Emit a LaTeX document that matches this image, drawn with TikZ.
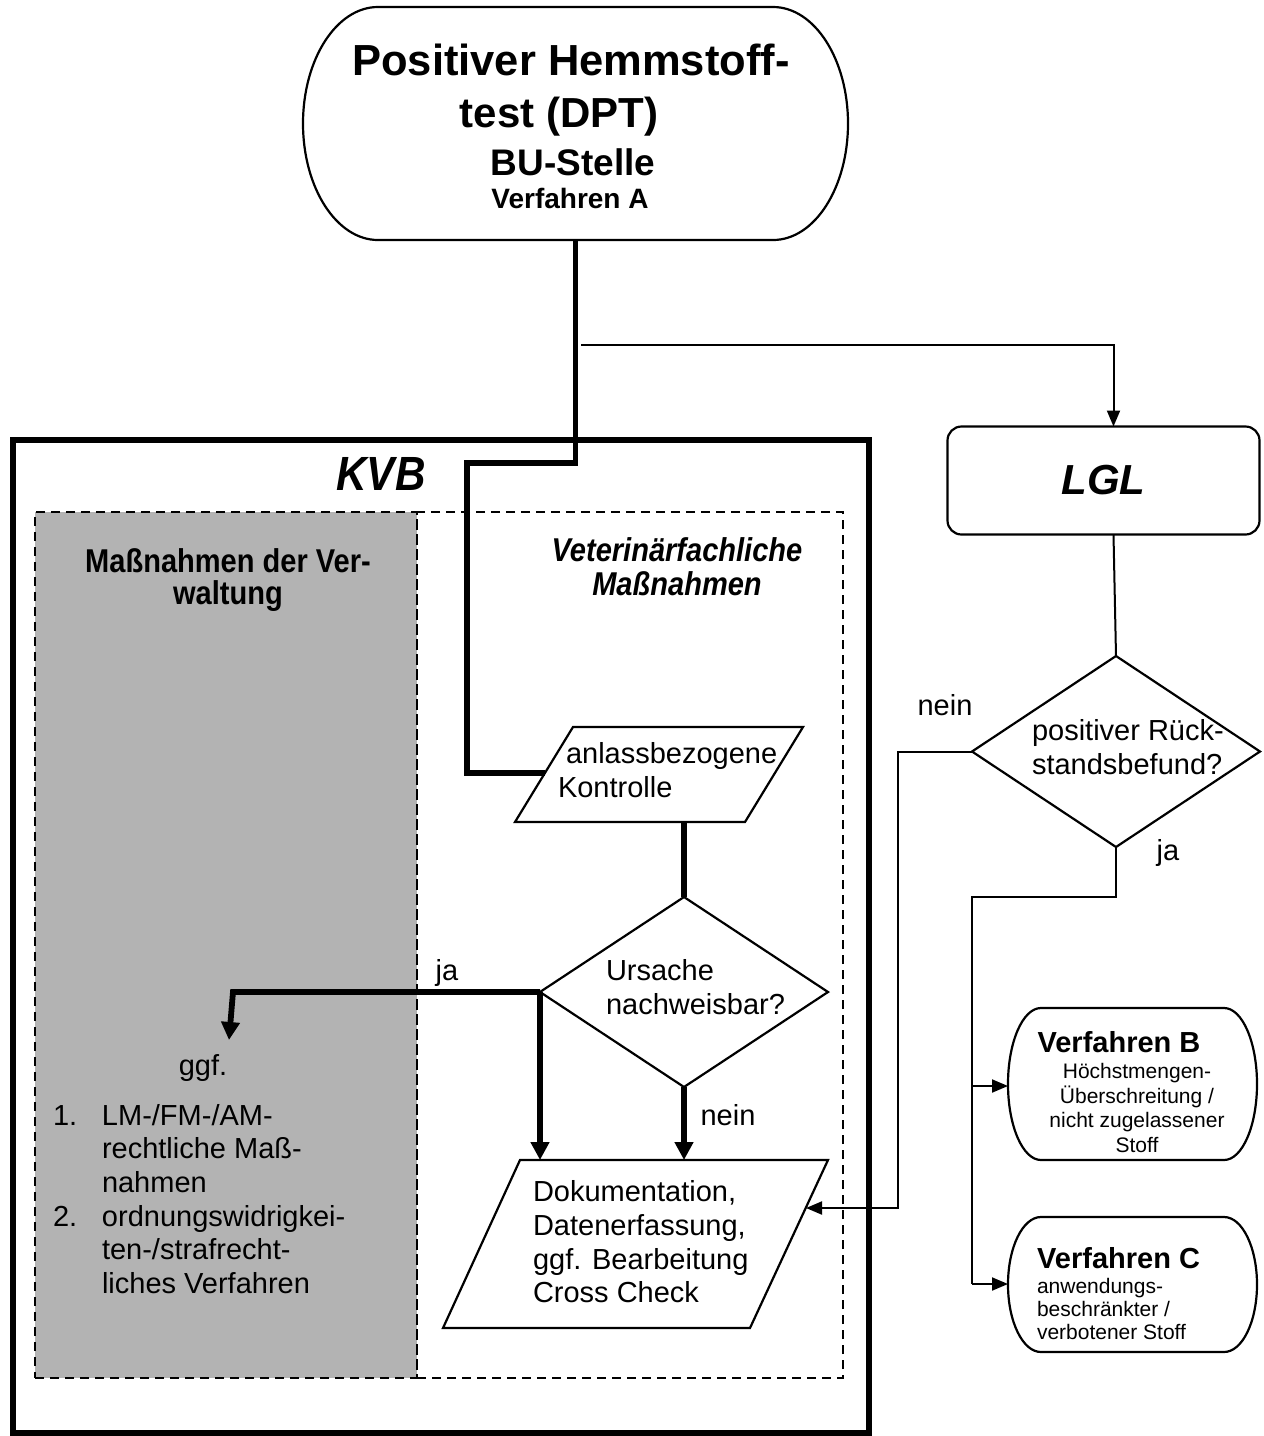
\documentclass[tikz,border=0pt]{standalone}
\usepackage{fontspec}
\setmainfont{Liberation Sans}
\newfontfamily\narrowfont{Liberation Sans}[FakeStretch=0.88]
\usetikzlibrary{arrows.meta,shapes.geometric,calc}
\definecolor{boxgray}{HTML}{B3B3B3}
\begin{document}
\begin{tikzpicture}[x=1pt,y=-1pt,
  outline/.style={line width=2.2pt, line join=miter},
  conn/.style={line width=2pt},
  thinarrow/.style={line width=2pt,-{Triangle[length=16pt,width=13pt]}},
  thickline/.style={line width=5.8pt, line join=miter},
  thickarrow/.style={line width=5.8pt, line join=miter,-{Triangle[length=18pt,width=18pt]}},
  dashbox/.style={line width=2pt, dash pattern=on 9pt off 6pt},
  lbl/.style={font=\fontsize{29}{33.6}\selectfont, inner sep=0pt, outer sep=0pt},
  small/.style={font=\fontsize{21}{24.7}\selectfont, inner sep=0pt, outer sep=0pt},
  blank/.style={draw=none, inner sep=0pt, outer sep=0pt},
  decision/.style={diamond, draw, line width=2.2pt, inner sep=0pt, outer sep=0pt, fill=white}
]
% canvas
\fill[white] (0,0) rectangle (1264,1436);
\useasboundingbox (0,0) rectangle (1264,1436);

% ---------- KVB container ----------
\node[draw, line width=6pt, minimum width=856pt, minimum height=993pt, inner sep=0pt, outer sep=0pt] (kvb) at (441,936.5) {};
\node[fill=boxgray, dashbox, draw, minimum width=382pt, minimum height=866pt, inner sep=0pt, outer sep=0pt] (verw) at (226,945) {};
\node[dashbox, draw, minimum width=426pt, minimum height=866pt, inner sep=0pt, outer sep=0pt] (vet) at (630,945) {};

\node[font=\narrowfont\bfseries\itshape\fontsize{48}{50}\selectfont, inner sep=0pt, anchor=base] (kvbt) at (381,490) {KVB};
\node[font=\narrowfont\bfseries\fontsize{33}{33}\selectfont, align=center, inner sep=0pt] (verwt) at (228,580) {Maßnahmen der Ver-\\[-0.5pt]waltung};
\node[font=\narrowfont\bfseries\itshape\fontsize{33}{33}\selectfont, align=center, inner sep=0pt] (vett) at (677,567) {Veterinärfachliche\\[1pt]Maßnahmen};

% ---------- top node ----------
\node[blank, minimum width=545pt, minimum height=233pt] (top) at (575.5,123.5) {};
\draw[outline, fill=white] (378,7) -- (773,7) arc[start angle=90,end angle=-90,x radius=75pt,y radius=116.5pt]
  -- (378,240) arc[start angle=270,end angle=90,x radius=75pt,y radius=116.5pt] -- cycle;
\node[font=\bfseries\fontsize{43.5}{44}\selectfont, inner sep=0pt, anchor=base] (t1) at (571,75) {Positiver Hemmstoff-};
\node[font=\bfseries\fontsize{42}{42}\selectfont, inner sep=0pt, anchor=base] (t2) at (559,127) {test (DPT)};
\node[font=\bfseries\fontsize{37}{37}\selectfont, inner sep=0pt, anchor=base] (t3) at (573,175) {BU-Stelle};
\node[font=\bfseries\fontsize{28}{28}\selectfont, inner sep=0pt, anchor=base] (t4) at (570,208) {Verfahren A};

% ---------- LGL ----------
\node[draw, outline, rounded corners=14pt, minimum width=312pt, minimum height=108pt, inner sep=0pt, outer sep=0pt,
      font=\bfseries\itshape\fontsize{42}{42}\selectfont] (lgl) at (1103.5,480.5) {LGL};

% ---------- parallelograms ----------
\coordinate (p1w) at (545,773);
\coordinate (p1s) at (684,822);
\draw[outline, fill=white] (573,727) -- (803,727) -- (745,822) -- (515,822) -- cycle;
\node[lbl, align=left, anchor=west] (p1t) at (558,770) {\hspace*{8pt}anlassbezogene\\Kontrolle};

\coordinate (p2tl) at (520,1160);
\coordinate (p2e) at (806,1208);
\draw[outline, fill=white] (520,1160) -- (828,1160) -- (750,1328) -- (443,1328) -- cycle;
\node[lbl, align=left, anchor=west] (p2t) at (533,1242) {Dokumentation,\\Datenerfassung,\\ggf. Bearbeitung\\Cross Check};

% ---------- decisions ----------
\node[decision, minimum width=288pt, minimum height=190pt] (d1) at (684,992) {};
\node[lbl, align=left, anchor=west] (d1t) at (606,987) {Ursache\\nachweisbar?};

\node[decision, minimum width=288pt, minimum height=191pt] (d2) at (1116,751.5) {};
\node[lbl, align=left, anchor=west] (d2t) at (1032,747) {positiver Rück-\\standsbefund?};

% ---------- Verfahren B / C ----------
\node[blank, minimum width=249pt, minimum height=152pt] (vb) at (1132.5,1086) {};
\draw[outline, fill=white] (1041,1008) -- (1224,1008) arc[start angle=90,end angle=-90,x radius=33pt,y radius=76pt]
  -- (1041,1160) arc[start angle=270,end angle=90,x radius=33pt,y radius=76pt] -- cycle;
\node[font=\bfseries\fontsize{29}{29}\selectfont, inner sep=0pt, anchor=base] (vbt) at (1119,1052) {Verfahren B};
\node[small, align=center] (vbs) at (1137,1108) {Höchstmengen-\\Überschreitung /\\nicht zugelassener\\Stoff};

\node[blank, minimum width=249pt, minimum height=135pt] (vc) at (1132.5,1284) {};
\draw[outline, fill=white] (1041,1217) -- (1224,1217) arc[start angle=90,end angle=-90,x radius=33pt,y radius=67.5pt]
  -- (1041,1352) arc[start angle=270,end angle=90,x radius=33pt,y radius=67.5pt] -- cycle;
\node[font=\bfseries\fontsize{29}{29}\selectfont, inner sep=0pt, anchor=base west] (vct) at (1037,1268) {Verfahren C};
\node[small, align=left, anchor=west, font=\fontsize{21}{23}\selectfont] (vcs) at (1037,1309) {anwendungs-\\beschränkter /\\verbotener Stoff};

% ---------- left column text ----------
\node[lbl, anchor=base] (ggf) at (203,1075) {ggf.};
\node[lbl, align=left, anchor=west] (list) at (53,1199) {\makebox[49pt][l]{1.}LM-/FM-/AM-\\\hspace*{49pt}rechtliche Maß-\\\hspace*{49pt}nahmen\\\makebox[49pt][l]{2.}ordnungswidrigkei-\\\hspace*{49pt}ten-/strafrecht-\\\hspace*{49pt}liches Verfahren};

% ---------- labels ----------
\node[lbl, anchor=base] (ja1) at (447,980) {ja};
\node[lbl, anchor=base] (nein1) at (728,1125) {nein};
\node[lbl, anchor=base] (nein2) at (945,715) {nein};
\node[lbl, anchor=base] (ja2) at (1168,860) {ja};

% ---------- connectors ----------
\coordinate (kv1) at (467,463);
\coordinate (br) at (581,345);
\coordinate (ggtip) at (229,1040);
\coordinate (gg1) at (233,992);
\coordinate (nr) at (898,1208);
\coordinate (jc) at (972,897);

\draw[thickline] (top.south) |- (kv1) |- (p1w);
\draw[thinarrow] (br) -| ([xshift=10pt]lgl.north);
\draw[thickline] (p1s) -- (d1.north);
\draw[thickarrow] (d1.west) -- (gg1) -- (ggtip);
\draw[thickarrow] (d1.west) -- (d1.west |- p2tl);
\draw[thickarrow] (d1.south) -- (d1.south |- p2tl);
\draw[conn] ([xshift=10pt]lgl.south) -- (d2.north);
\draw[thinarrow] (d2.west) -| (nr) -- (p2e);
\draw[conn] (d2.south) |- (jc) -- (jc |- vc.west);
\draw[thinarrow] (jc |- vb.west) -- (vb.west);
\draw[thinarrow] (jc |- vc.west) -- (vc.west);
\end{tikzpicture}
\end{document}
